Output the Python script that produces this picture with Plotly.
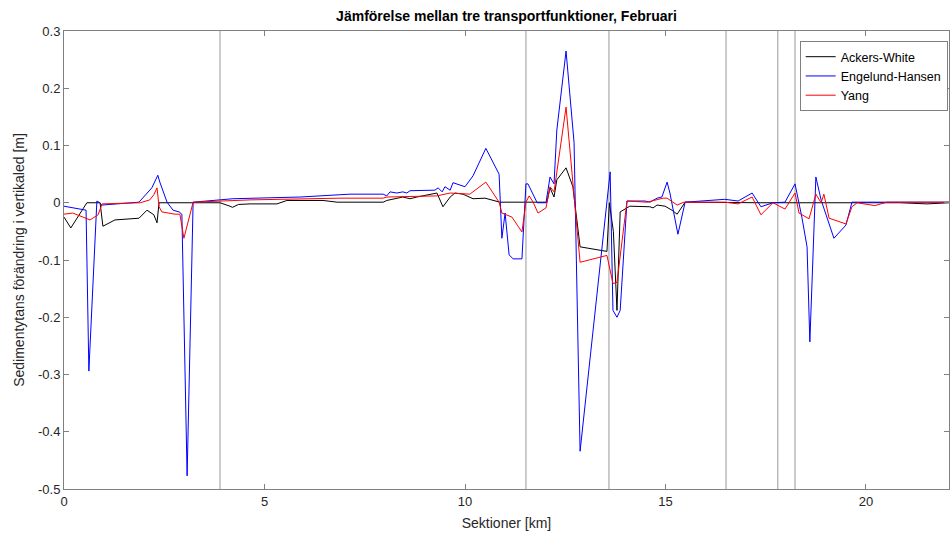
import plotly.graph_objects as go

# Ackers-White
aw_x = [0.00, 0.17, 0.57, 0.90, 0.97, 1.27, 1.87, 2.07, 2.24, 2.32, 2.37, 3.89, 4.14, 4.20, 4.35,
        4.64, 5.31, 5.56, 6.46, 6.81, 7.96, 8.05, 8.45, 8.63, 8.80, 9.30, 9.45, 9.63, 9.75, 9.95,
        10.20, 10.50, 10.87, 11.45, 12.04, 12.12, 12.22, 12.29, 12.52, 12.69, 12.87, 13.54, 13.60,
        13.70, 13.79, 13.87, 14.11, 14.61, 14.69, 14.79, 14.99, 15.16, 15.29, 15.49, 16.48, 17.36,
        18.35, 19.60, 20.85, 21.52, 22.07]
aw_y = [-0.025, -0.044, 0.0, 0.0, -0.041, -0.030, -0.027, -0.013, -0.021, -0.035, 0.0, 0.0, -0.006, -0.008, -0.003,
        -0.002, -0.002, 0.004, 0.004, 0.001, 0.001, 0.004, 0.010, 0.007, 0.010, 0.017, -0.007, 0.010, 0.017, 0.015,
        0.007, 0.008, 0.001, 0.001, 0.001, 0.026, 0.010, 0.040, 0.061, 0.028, -0.077, -0.085, 0.0,
        -0.05, -0.188, -0.016, -0.006, -0.007, -0.009, -0.004, -0.006, -0.013, -0.020, 0.001, 0.0, 0.0,
        0.0, 0.0, 0.0, -0.002, 0.0]

# Engelund-Hansen
eh_x = [0.00, 0.55, 0.62, 0.82, 0.87, 0.95, 1.87, 2.19, 2.34, 2.39, 2.57, 2.72, 2.87, 2.94, 3.07, 3.22,
        4.21, 4.64, 5.89, 6.88, 7.13, 7.96, 8.05, 8.13, 8.30, 8.45, 8.55, 8.63, 8.80, 9.25, 9.33, 9.43,
        9.50, 9.63, 9.70, 10.00, 10.20, 10.52, 10.85, 10.92, 11.00, 11.10, 11.20, 11.42, 11.52, 11.57,
        11.80, 12.02, 12.12, 12.22, 12.29, 12.52, 12.72, 12.87, 13.62, 13.69, 13.79, 13.87, 14.04, 14.49,
        14.61, 14.79, 14.91, 15.04, 15.11, 15.31, 15.49, 16.48, 16.81, 17.16, 17.38, 17.68, 17.98, 18.23,
        18.40, 18.53, 18.60, 18.75, 18.88, 19.20, 19.50, 19.65, 20.42, 20.60, 21.35, 22.07]
eh_y = [-0.006, -0.013, -0.294, 0.003, 0.001, -0.004, 0.001, 0.026, 0.048, 0.036, 0.001, -0.013, -0.016, -0.020, -0.477, 0.001,
        0.007, 0.008, 0.010, 0.014, 0.015, 0.015, 0.012, 0.019, 0.017, 0.019, 0.017, 0.021, 0.021, 0.022, 0.026, 0.019,
        0.028, 0.022, 0.035, 0.028, 0.047, 0.095, 0.050, -0.062, -0.018, -0.091, -0.098, -0.098, 0.033, 0.033,
        0.0, 0.0, 0.045, 0.033, 0.127, 0.265, 0.105, -0.434, 0.054, -0.188, -0.200, -0.188, 0.003, 0.003,
        0.001, 0.008, 0.010, 0.036, 0.017, -0.055, 0.001, 0.006, 0.003, 0.017, -0.007, 0.0, 0.001, 0.033,
        -0.025, -0.077, -0.243, 0.045, 0.005, -0.062, -0.039, 0.001, 0.001, 0.001, 0.0, 0.001]

# Yang
ya_x = [0.00, 0.22, 0.65, 0.85, 0.95, 1.90, 2.14, 2.24, 2.32, 2.37, 2.44, 2.77, 2.89, 2.99, 3.22,
        4.64, 6.88, 7.96, 8.05, 9.30, 9.63, 10.12, 10.52, 10.85, 10.92, 11.17, 11.42, 11.52, 11.60,
        11.70, 11.82, 12.02, 12.12, 12.22, 12.52, 12.69, 12.87, 13.54, 13.69, 13.79, 14.04, 14.54,
        14.94, 15.04, 15.29, 15.46, 16.48, 16.81, 17.16, 17.38, 17.68, 17.98, 18.23, 18.33, 18.58,
        18.75, 18.88, 18.95, 19.08, 19.50, 19.65, 19.78, 20.22, 20.52, 22.07]
ya_y = [-0.020, -0.018, -0.030, -0.021, -0.002, 0.0, 0.005, 0.014, 0.026, -0.007, -0.016, -0.020, -0.020, -0.062, 0.001,
        0.005, 0.008, 0.008, 0.010, 0.012, 0.017, 0.015, 0.036, 0.001, -0.018, -0.025, -0.051, 0.001, 0.012,
        0.001, -0.018, -0.009, 0.028, 0.019, 0.167, 0.040, -0.104, -0.092, -0.141, -0.139, 0.003, 0.001,
        0.008, 0.008, -0.004, 0.001, 0.001, -0.002, 0.010, -0.021, 0.0, -0.011, 0.017, -0.018, -0.028,
        0.015, 0.0, 0.015, -0.027, -0.037, -0.007, 0.0, -0.005, 0.001, 0.001]

# Section boundaries (km)
boundaries = [3.89, 11.52, 13.59, 16.51, 17.80, 18.23]

x_ticks = [0, 5, 10, 15, 20]
y_ticks = [-0.5, -0.4, -0.3, -0.2, -0.1, 0, 0.1, 0.2, 0.3]
y_labels = ["-0.5", "-0.4", "-0.3", "-0.2", "-0.1", "0", "0.1", "0.2", "0.3"]

FONT = "Liberation Sans, Arial, Helvetica, sans-serif"

fig = go.Figure()
for b in boundaries:
    fig.add_shape(type="line", x0=b, x1=b, y0=-0.5, y1=0.3, xref="x", yref="y",
                  line=dict(color="#b0b0b0", width=1.3), layer="below")

fig.add_trace(go.Scatter(x=aw_x, y=aw_y, mode="lines", name="Ackers-White",
                         line=dict(color="#000000", width=1)))
fig.add_trace(go.Scatter(x=eh_x, y=eh_y, mode="lines", name="Engelund-Hansen",
                         line=dict(color="#0000ff", width=1)))
fig.add_trace(go.Scatter(x=ya_x, y=ya_y, mode="lines", name="Yang",
                         line=dict(color="#ff0000", width=1)))

axis_common = dict(showgrid=False, zeroline=False, showline=True, linecolor="#808080",
                   linewidth=1, mirror="allticks", ticks="inside", ticklen=5, tickcolor="#808080",
                   tickfont=dict(family=FONT, size=13, color="#262626"))

fig.update_layout(
    width=950, height=540,
    margin=dict(l=64, r=1, t=31, b=51),
    paper_bgcolor="white", plot_bgcolor="white",
    font=dict(family=FONT, size=13, color="#262626"),
    title=dict(text="<b>Jämförelse mellan tre transportfunktioner, Februari</b>",
               x=(64 + 949) / 2 / 950, xanchor="center", y=1 - 16 / 540, yanchor="middle",
               font=dict(family=FONT, size=14, color="#000000")),
    xaxis=dict(range=[0, 22.07], tickvals=x_ticks, ticktext=[str(t) for t in x_ticks],
               title=dict(text="Sektioner [km]", font=dict(family=FONT, size=14, color="#262626"), standoff=10),
               **axis_common),
    yaxis=dict(range=[-0.5, 0.3], tickvals=y_ticks, ticktext=y_labels,
               title=dict(text="Sedimentytans förändring i vertikaled [m]",
                          font=dict(family=FONT, size=14, color="#262626"), standoff=10),
               **axis_common),
    legend=dict(x=0.9985, xanchor="right", y=0.978, yanchor="top",
                bgcolor="white", bordercolor="#808080", borderwidth=1,
                font=dict(family=FONT, size=12.5, color="#000000"),
                itemwidth=30, tracegroupgap=0),
    showlegend=True,
)

fig.write_html("out.html", config={"displayModeBar": False},
               post_script="document.body.style.margin='0px';document.body.style.padding='0px';")
